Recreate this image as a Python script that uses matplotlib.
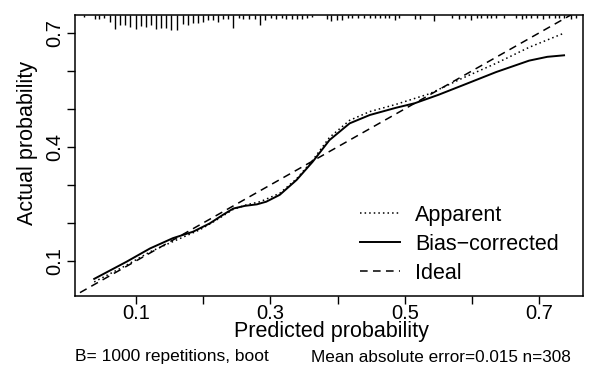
import matplotlib
matplotlib.use("Agg")
import matplotlib.pyplot as plt
import matplotlib.transforms as mtransforms

plt.rcParams["font.family"] = ["Liberation Sans", "DejaVu Sans"]

# calibration curves (predicted -> actual)
app_x = [0.038, 0.086, 0.121, 0.155, 0.195, 0.220, 0.245, 0.265, 0.285, 0.314,
         0.339, 0.363, 0.388, 0.418, 0.448, 0.487, 0.537, 0.586, 0.636, 0.685, 0.738]
app_y = [0.045, 0.089, 0.124, 0.151, 0.182, 0.208, 0.236, 0.248, 0.256, 0.278,
         0.316, 0.365, 0.425, 0.470, 0.493, 0.512, 0.540, 0.581, 0.620, 0.662, 0.700]

bc_x = [0.038, 0.086, 0.121, 0.155, 0.185, 0.210, 0.230, 0.245, 0.262, 0.280,
        0.294, 0.314, 0.339, 0.363, 0.388, 0.418, 0.448, 0.487, 0.515, 0.550,
        0.586, 0.636, 0.685, 0.712, 0.737]
bc_y = [0.053, 0.098, 0.133, 0.160, 0.177, 0.199, 0.222, 0.238, 0.245, 0.249,
        0.256, 0.274, 0.313, 0.361, 0.418, 0.462, 0.484, 0.503, 0.515, 0.537,
        0.562, 0.597, 0.627, 0.637, 0.641]

# distribution of predicted probabilities (spikes at top)
rug_p = [0.023, 0.039, 0.045, 0.052, 0.061, 0.069, 0.076, 0.084, 0.091, 0.100,
         0.107, 0.115, 0.122, 0.130, 0.137, 0.145, 0.152, 0.161, 0.170, 0.177,
         0.185, 0.192, 0.200, 0.207, 0.214, 0.222, 0.229, 0.237, 0.244, 0.253,
         0.260, 0.268, 0.277, 0.284, 0.292, 0.301, 0.308, 0.317, 0.324, 0.332,
         0.339, 0.347, 0.354, 0.362, 0.384, 0.391, 0.399, 0.406, 0.415, 0.422,
         0.430, 0.440, 0.448, 0.455, 0.463, 0.470, 0.477, 0.485, 0.492, 0.515,
         0.522, 0.544, 0.570, 0.581, 0.589, 0.599, 0.607, 0.614, 0.622, 0.629,
         0.636, 0.648, 0.666, 0.674, 0.681, 0.688, 0.696, 0.705, 0.715, 0.723,
         0.730, 0.737, 0.748, 0.755]
rug_n = [2, 4, 4, 3, 7, 14, 10, 10, 12, 14,
         11, 12, 10, 14, 13, 13, 15, 15, 9, 10,
         8, 8, 7, 5, 5, 7, 4, 4, 13, 3,
         4, 4, 4, 10, 5, 3, 4, 3, 4, 4,
         4, 4, 3, 2, 4, 6, 5, 5, 3, 3,
         3, 3, 3, 3, 3, 3, 3, 5, 3, 4,
         4, 6, 3, 4, 3, 5, 3, 3, 3, 3,
         3, 3, 3, 4, 3, 3, 3, 4, 3, 3,
         3, 3, 4, 3]

x_ticks = [0.1, 0.2, 0.3, 0.4, 0.5, 0.6, 0.7]
x_labels = ["0.1", "", "0.3", "", "0.5", "", "0.7"]
y_ticks = [0.1, 0.2, 0.3, 0.4, 0.5, 0.6, 0.7]
y_labels = ["0.1", "", "", "0.4", "", "", "0.7"]

fig = plt.figure(figsize=(5.96, 3.75), dpi=100)
ax = fig.add_axes([0.1258, 0.2107, 0.8522, 0.7493])
ax.set_xlim(0.0094, 0.765)
ax.set_ylim(0.008, 0.747)

# ideal line
ax.plot([0, 1], [0, 1], color="black", lw=1.1, linestyle=(0, (5, 3.5)), label="Ideal", zorder=2)
ax.plot(app_x, app_y, color="black", lw=1.1, linestyle=(0, (1, 2)), label="Apparent", zorder=3)
ax.plot(bc_x, bc_y, color="black", lw=1.4, label="Bias\u2212corrected", zorder=3)

trans = mtransforms.blended_transform_factory(ax.transData, ax.transAxes)
scale = 0.053 / max(rug_n)
ax.vlines(rug_p, [1 - n * scale for n in rug_n], 1, color="black", lw=1.0, transform=trans)

ax.set_xticks(x_ticks)
ax.set_xticklabels(x_labels)
ax.set_yticks(y_ticks)
ax.set_yticklabels(y_labels, rotation=90, va="center")
ax.tick_params(direction="out", length=5.5, width=1.0, labelsize=14.5)
ax.tick_params(axis="x", pad=0.2)
ax.tick_params(axis="y", pad=2.5)
for s in ax.spines.values():
    s.set_linewidth(1.1)

ax.set_xlabel("Predicted probability", fontsize=15.5, va="center")
ax.xaxis.set_label_coords(0.505, -0.128)
ax.set_ylabel("Actual probability", fontsize=15.5, va="center")
ax.yaxis.set_label_coords(-0.0925, 0.544)

h, l = ax.get_legend_handles_labels()
order = [1, 2, 0]
ax.legend([h[i] for i in order], [l[i] for i in order], loc="upper left",
          bbox_to_anchor=(0.561, 0.324), frameon=False, fontsize=15.5,
          handlelength=1.86, handletextpad=0.7, labelspacing=0.37,
          borderpad=0, borderaxespad=0)

fig.text(75 / 596, 1 - 357 / 375, "B= 1000 repetitions, boot", fontsize=12.5,
         ha="left", va="center")
fig.text(571 / 596, 1 - 357 / 375, "Mean absolute error=0.015 n=308", fontsize=12.3,
         ha="right", va="center")

fig.savefig("out.png", dpi=100)
